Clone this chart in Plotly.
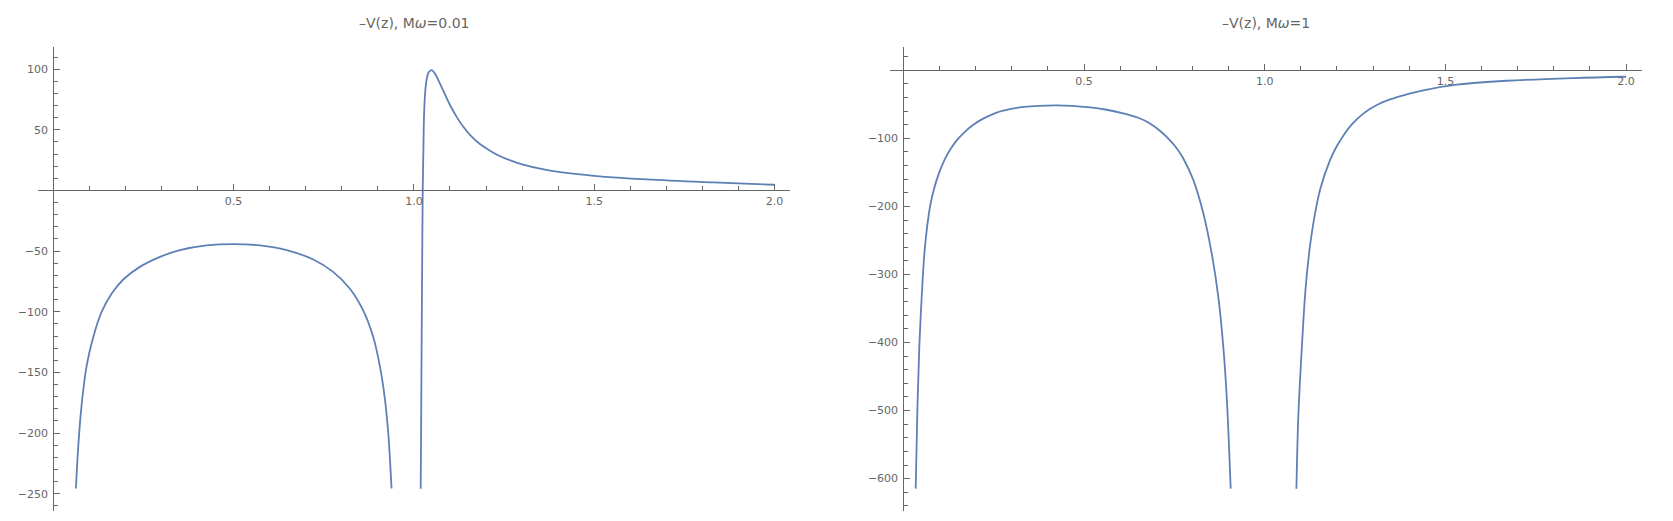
import plotly.graph_objects as go

# -V(z), M omega = 0.01  (two branches, clipped at the bottom)
left_x1 = [0.0627, 0.069, 0.078, 0.092, 0.111, 0.134, 0.162, 0.194, 0.240, 0.296, 0.351, 0.425,
           0.499, 0.573, 0.647, 0.721, 0.776, 0.822, 0.859, 0.887, 0.906, 0.920, 0.929, 0.938]
left_y1 = [-245.8, -212, -178.5, -145.5, -120.7, -100.1, -85, -73.4, -63, -54.7, -49.2, -45.3,
           -44.2, -45.3, -49.2, -56.9, -67.1, -80.8, -98.7, -120.7, -145.5, -173, -200.5, -245.8]
left_x2 = [1.0188, 1.0200, 1.0213, 1.0228, 1.0244, 1.0263, 1.028, 1.031, 1.035, 1.041, 1.049,
           1.058, 1.072, 1.100, 1.119, 1.137, 1.160, 1.183, 1.211, 1.239, 1.271, 1.303, 1.350,
           1.396, 1.5, 1.645, 1.83, 2.0]
left_y2 = [-246, -195, -132, -65, 0, 33, 61, 80, 91, 97.5, 99.3,
           96.5, 88.3, 70.5, 60.5, 52.5, 44.3, 38.3, 32.8, 28.2, 24.4, 21.4, 18.0,
           15.5, 12.1, 9.1, 6.6, 4.7]

# -V(z), M omega = 1
right_x1 = [0.0343, 0.0387, 0.0443, 0.0509, 0.0600, 0.0739, 0.083, 0.0924, 0.1035, 0.1154, 0.129,
            0.1478, 0.171, 0.1937, 0.221, 0.2584, 0.295, 0.3320, 0.4245, 0.5166, 0.563, 0.6087,
            0.650, 0.6826, 0.715, 0.7380, 0.758, 0.7748, 0.8024, 0.8301, 0.8533, 0.8716,
            0.8854, 0.8949, 0.9059]
right_y1 = [-614.7, -504, -406, -333, -259, -200.5, -178.5, -161, -144.5, -130, -117,
            -103, -90, -80, -71, -62, -57, -53.8, -51.5, -54.4, -57.9, -63.2,
            -69.7, -78, -91, -103, -115.5, -129.5, -161, -210, -269, -333,
            -406, -480, -614.7]
right_x2 = [1.0877, 1.0930, 1.1024, 1.1143, 1.1301, 1.1530, 1.1807, 1.199, 1.2175, 1.241, 1.2728,
            1.305, 1.3467, 1.393, 1.4389, 1.5313, 1.6696, 1.8539, 2.0]
right_y2 = [-615, -509, -411, -313, -240, -176, -132, -112, -96, -79.5, -63.6,
            -52.3, -42.7, -35.3, -29.3, -21.1, -15.3, -11.3, -9.4]

titles = ['–V(z), M<i>ω</i>=0.01', '–V(z), M<i>ω</i>=1']
x_ticks = [0.5, 1.0, 1.5, 2.0]
left_y_ticks = [-250, -200, -150, -100, -50, 50, 100]
right_y_ticks = [-600, -500, -400, -300, -200, -100]

# page body has an 8px margin, so everything is laid out 8px up/left
OFF = 8
W, H = 1673 - OFF, 521 - OFF
LINE = '#5E81B5'
AXIS = '#666666'
FONT = 'DejaVu Sans'

left_xr = [-0.0413, 2.0418]
right_xr = [-0.0382, 2.0440]
left_yr = [-264.3, 118.3]
right_yr = [-647.6, 34.3]
left_dom = [(38.4 - OFF) / W, (789.6 - OFF) / W]
right_dom = [(889.5 - OFF) / W, (1642 - OFF) / W]
top, bottom = 47 - OFF, 521 - 510.7


def frac(v, r):
    return (v - r[0]) / (r[1] - r[0])


def minus(v):
    return str(v).replace('-', '\u2212')


fig = go.Figure()
for xs, ys, ax in [(left_x1, left_y1, 'x'), (left_x2, left_y2, 'x'),
                   (right_x1, right_y1, 'x2'), (right_x2, right_y2, 'x2')]:
    fig.add_trace(go.Scatter(x=xs, y=ys, mode='lines', xaxis=ax, yaxis=ax.replace('x', 'y'),
                             line=dict(color=LINE, width=1.8, shape='spline', smoothing=1.0),
                             showlegend=False, hoverinfo='skip'))

common = dict(showline=True, linecolor=AXIS, linewidth=1, showgrid=False, zeroline=False,
              ticks='inside', ticklen=6, tickcolor=AXIS, tickwidth=1,
              tickfont=dict(family=FONT, size=11, color=AXIS))


def x_axis(r, dom, yr):
    return dict(common, range=r, domain=dom, anchor='free', position=frac(0, yr),
                tickmode='array', tickvals=x_ticks, ticktext=['%.1f' % t for t in x_ticks],
                minor=dict(tick0=0, dtick=0.1, ticks='inside', ticklen=4, tickcolor=AXIS))


def y_axis(r, dom, xr, vals, mdt):
    return dict(common, range=r, domain=[0, 1], anchor='free',
                position=dom[0] + frac(0, xr) * (dom[1] - dom[0]),
                tickmode='array', tickvals=vals, ticktext=[minus(v) for v in vals],
                ticklabelstandoff=3,
                minor=dict(tick0=0, dtick=mdt, ticks='inside', ticklen=4, tickcolor=AXIS))


fig.update_layout(
    width=W, height=H,
    margin=dict(l=0, r=0, t=top, b=bottom),
    paper_bgcolor='white', plot_bgcolor='white',
    xaxis=x_axis(left_xr, left_dom, left_yr),
    xaxis2=x_axis(right_xr, right_dom, right_yr),
    yaxis=y_axis(left_yr, left_dom, left_xr, left_y_ticks, 10),
    yaxis2=y_axis(right_yr, right_dom, right_xr, right_y_ticks, 20),
)

plot_h = H - top - bottom
for t, dom in zip(titles, [left_dom, right_dom]):
    fig.add_annotation(text=t, xref='paper', yref='paper', x=(dom[0] + dom[1]) / 2,
                       y=1 + (top - (23.5 - OFF)) / plot_h, xanchor='center', yanchor='middle',
                       showarrow=False, font=dict(family=FONT, size=14, color=AXIS))

fig.write_html('out.html')
